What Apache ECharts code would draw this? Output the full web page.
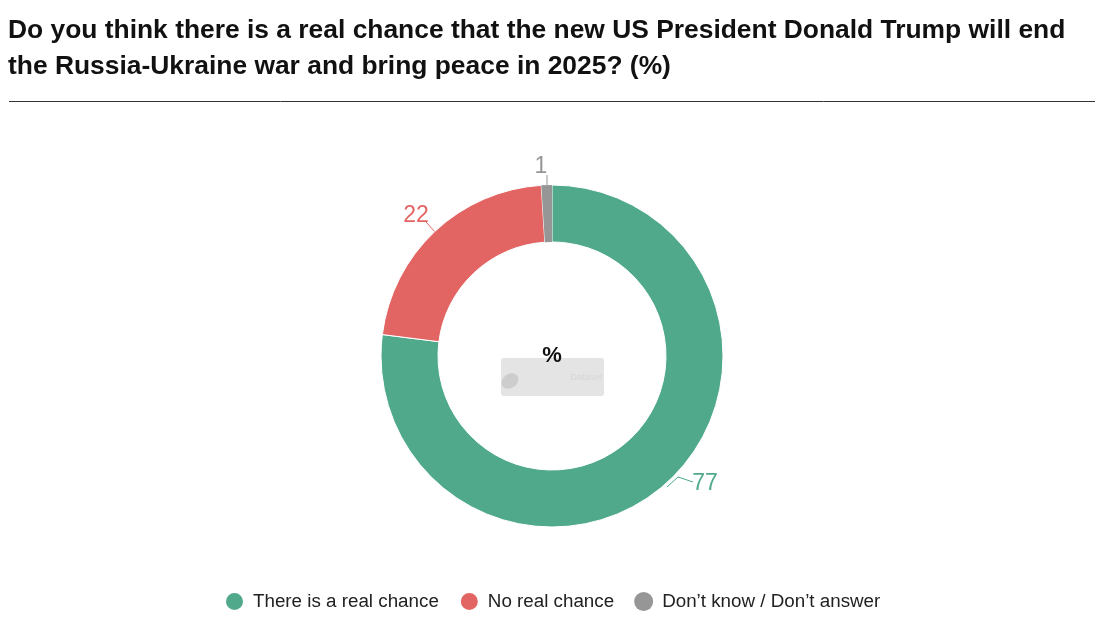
<!DOCTYPE html>
<html><head><meta charset="utf-8">
<style>html,body{margin:0;padding:0;background:#fff}#c{width:1095px;height:635px}</style>
<script src="https://cdn.jsdelivr.net/npm/echarts@6/dist/echarts.min.js"></script></head>
<body><div id="c"></div>
<script>
const titleText = "Do you think there is a real chance that the new US President Donald Trump will end\nthe Russia-Ukraine war and bring peace in 2025? (%)";
const categories = ["There is a real chance", "No real chance", "Don\u2019t know / Don\u2019t answer"];
const values = [77, 22, 1];
const colors = ["#4fa98a", "#e36563", "#969696"];
const labelPlacement = [
  {x:705,y:484,line:[[667,487],[678,477],[693,482]]},
  {x:416,y:216,line:[[435,232],[427,223],[426,222]]},
  {x:541,y:167,line:[[547,185],[547,175],[547,175]]}
];
const chart = echarts.init(document.getElementById('c'), null, {renderer:'canvas'});
const font = "'Liberation Sans', Arial, sans-serif";
chart.setOption({
  animation:false,
  title:{text:titleText,left:3,top:8,textStyle:{fontFamily:font,fontSize:26.4,fontWeight:'bold',color:'#111',lineHeight:36}},
  legend:{top:591,left:224,icon:'circle',itemWidth:19,itemHeight:19,itemGap:20,padding:0,
    textStyle:{fontFamily:font,fontSize:18.8,color:'#222',padding:[0,0,0,4]},data:categories},
  graphic:[
    {type:'line',shape:{x1:9,y1:101.5,x2:1095,y2:101.5},style:{stroke:'#333',lineWidth:1},silent:true},
    {type:'rect',shape:{x:501,y:358,width:103,height:38,r:3},style:{fill:'#e4e4e4'},z:1,silent:true},
    {type:'ellipse',shape:{cx:510,cy:381,rx:9,ry:7},rotation:0.6,originX:510,originY:381,style:{fill:'#cdcdcd'},z:2,silent:true},
    {type:'text',style:{x:586,y:378,text:'Dataset',fill:'#d6d6d6',font:"9px "+font,align:'center',verticalAlign:'middle'},z:2,silent:true},
    {type:'text',style:{x:552,y:356,text:'%',fill:'#111',font:"bold 22px "+font,align:'center',verticalAlign:'middle'},z:5,silent:true}
  ],
  series:[{
    type:'pie',center:[552,356],radius:[114,171],startAngle:90,clockwise:true,
    itemStyle:{borderColor:'#fff',borderWidth:1},
    label:{show:true,position:'outside',formatter:'{c}',fontFamily:font,fontSize:23},
    labelLine:{show:true,length:12,length2:14,lineStyle:{width:1}},
    labelLayout:function(p){
      const k=labelPlacement[p.dataIndex];
      return {x:k.x,y:k.y,align:'center',verticalAlign:'middle',labelLinePoints:k.line};
    },
    data:categories.map((n,i)=>({name:n,value:values[i],
      itemStyle:i===2?{color:colors[i],borderWidth:0}:{color:colors[i]},
      label:{color:colors[i]},labelLine:{lineStyle:{color:colors[i]}}}))
  }]
});
</script></body></html>
